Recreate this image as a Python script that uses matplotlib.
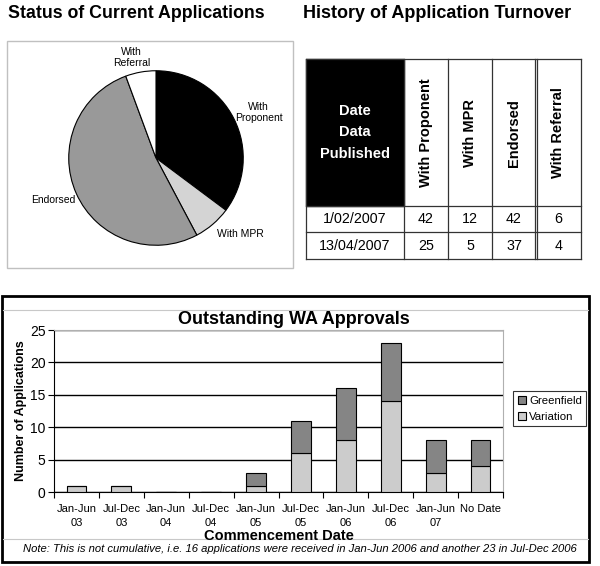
"""Recreate the WA approvals summary sheet: pie, turnover table and stacked bars."""

import matplotlib

matplotlib.use("Agg")
import matplotlib.pyplot as plt
import numpy as np
from matplotlib import font_manager
from matplotlib.patches import Patch, Rectangle

plt.rcParams["font.family"] = ["Liberation Sans", "DejaVu Sans"]

W, H = 600, 566

# --- data -------------------------------------------------------------------
pie_labels = ["With\nProponent", "With MPR", "Endorsed", "With\nReferral"]
pie_values = [25, 5, 37, 4]
pie_colors = ["#000000", "#d4d4d4", "#999999", "#ffffff"]

table_columns = ["With Proponent", "With MPR", "Endorsed", "With Referral"]
table_dates = ["1/02/2007", "13/04/2007"]
table_values = [[42, 12, 42, 6], [25, 5, 37, 4]]

bar_categories = ["Jan-Jun\n03", "Jul-Dec\n03", "Jan-Jun\n04", "Jul-Dec\n04", "Jan-Jun\n05",
                  "Jul-Dec\n05", "Jan-Jun\n06", "Jul-Dec\n06", "Jan-Jun\n07", "No Date"]
variation = [1, 1, 0, 0, 1, 6, 8, 14, 3, 4]
greenfield = [0, 0, 0, 0, 2, 5, 8, 9, 5, 4]
y_ticks = [0, 5, 10, 15, 20, 25]

note = ("Note: This is not cumulative, i.e. 16 applications were received in "
        "Jan-Jun 2006 and another 23 in Jul-Dec 2006")

installed = {f.name for f in font_manager.fontManager.ttflist}
narrow = "Liberation Sans Narrow" if "Liberation Sans Narrow" in installed else "Liberation Sans"


def px_axes(fig, left, top, width, height, **kw):
    """Add an axes placed with pixel coordinates measured from the top left."""
    return fig.add_axes([left / W, 1 - (top + height) / H, width / W, height / H], **kw)


fig = plt.figure(figsize=(W / 100, H / 100), dpi=100)

# canvas for titles, boxes and the table
canvas = px_axes(fig, 0, 0, W, H)
canvas.set_xlim(0, W)
canvas.set_ylim(H, 0)
canvas.axis("off")

# --- pie --------------------------------------------------------------------
canvas.text(8, 13, "Status of Current Applications", fontsize=12.8, fontweight="bold",
            ha="left", va="center")
canvas.add_patch(Rectangle((7, 41), 286, 227, fill=False, edgecolor="#c0c0c0", lw=1))

ax_pie = px_axes(fig, 156 - 89, 158 - 89, 178, 178)
wedges, _ = ax_pie.pie(pie_values, colors=pie_colors, startangle=90, counterclock=False,
                       wedgeprops={"edgecolor": "black", "linewidth": 0.8})
label_dist = [1.29, 1.30, 1.27, 1.19]
label_shift = [-2.6, 7.6, -2.0, 3.6]
for wedge, label, dist, shift in zip(wedges, pie_labels, label_dist, label_shift):
    mid = np.deg2rad((wedge.theta1 + wedge.theta2) / 2 + shift)
    ax_pie.text(dist * np.cos(mid), dist * np.sin(mid), label, fontsize=7.5,
                ha="center", va="center", multialignment="center", linespacing=1.15)
ax_pie.set_xlim(-1.02, 1.02)
ax_pie.set_ylim(-1.02, 1.02)

# --- table ------------------------------------------------------------------
canvas.text(303, 13, "History of Application Turnover", fontsize=13, fontweight="bold",
            ha="left", va="center")
col_edges = [306, 404, 448, 492, 536, 581]
row_edges = [59, 206, 232, 259]
canvas.add_patch(Rectangle((col_edges[0], row_edges[0]), col_edges[1] - col_edges[0],
                           row_edges[1] - row_edges[0], facecolor="black", edgecolor="black"))
for i, word in enumerate(["Date", "Data", "Published"]):
    canvas.text(355, 111 + i * 21.5, word, color="white", fontsize=10.5, fontweight="bold",
                ha="center", va="center")
for x in col_edges:
    if x == 536:
        canvas.plot([x - 1.2, x - 1.2], [row_edges[0], row_edges[-1]], color="#333", lw=0.9)
        canvas.plot([x + 1.2, x + 1.2], [row_edges[0], row_edges[-1]], color="#333", lw=0.9)
    else:
        canvas.plot([x, x], [row_edges[0], row_edges[-1]], color="#333", lw=0.9)
for y in row_edges:
    canvas.plot([col_edges[0], col_edges[-1]], [y, y], color="#333", lw=0.9)

for j, name in enumerate(table_columns):
    cx = (col_edges[j + 1] + col_edges[j + 2]) / 2
    canvas.text(cx, 133, name, rotation=90, fontsize=10.5, fontweight="bold",
                ha="center", va="center")
for i, (date, row) in enumerate(zip(table_dates, table_values)):
    cy = (row_edges[i + 1] + row_edges[i + 2]) / 2
    canvas.text((col_edges[0] + col_edges[1]) / 2, cy, date, fontsize=10.3,
                ha="center", va="center")
    for j, val in enumerate(row):
        cx = (col_edges[j + 1] + col_edges[j + 2]) / 2
        canvas.text(cx, cy, str(val), fontsize=10.3, ha="center", va="center")

# --- stacked bars -----------------------------------------------------------
canvas.add_patch(Rectangle((2, 296), 587, 266, fill=False, edgecolor="black", lw=2))
canvas.plot([3, 588], [310, 310], color="#c8c8c8", lw=0.8)
canvas.plot([3, 588], [539, 539], color="#c8c8c8", lw=0.8)
canvas.text(294, 319, "Outstanding WA Approvals", fontsize=13, fontweight="bold",
            ha="center", va="center")
canvas.text(300, 549, note, fontsize=8.1, fontstyle="italic", ha="center", va="center")

ax = px_axes(fig, 54, 330, 449, 162)
x = np.arange(len(bar_categories))
bar_w = 0.44
ax.bar(x, variation, bar_w, color="#cccccc", edgecolor="black", linewidth=0.8, zorder=3)
ax.bar(x, greenfield, bar_w, bottom=variation, color="#858585", edgecolor="black",
       linewidth=0.8, zorder=3)
ax.set_xlim(-0.5, len(bar_categories) - 0.5)
ax.set_ylim(0, 25)
ax.set_yticks(y_ticks)
ax.tick_params(axis="y", labelsize=10, length=4, width=0.8, pad=2)
ax.set_xticks(x)
ax.set_xticklabels(bar_categories, fontsize=8, linespacing=1.45, family=[narrow, "DejaVu Sans"])
ax.tick_params(axis="x", length=0, pad=9)
ax.set_xticks(np.arange(len(bar_categories) + 1) - 0.5, minor=True)
ax.tick_params(axis="x", which="minor", length=4, width=0.8)
ax.grid(axis="y", color="black", lw=1, zorder=0)
ax.spines["top"].set_color("#b0b0b0")
ax.spines["right"].set_color("#b0b0b0")
ax.set_xlabel("Commencement Date", fontsize=10.5, fontweight="bold", labelpad=1)
ax.set_ylabel("Number of Applications", fontsize=9, fontweight="bold", labelpad=2)

handles = [Patch(facecolor="#858585", edgecolor="black", lw=0.8, label="Greenfield"),
           Patch(facecolor="#cccccc", edgecolor="black", lw=0.8, label="Variation")]
leg = fig.legend(handles=handles, loc="upper left", bbox_to_anchor=(513 / W, 1 - 391 / H),
                 fontsize=8.2, frameon=True, fancybox=False, edgecolor="black",
                 handlelength=0.7, handleheight=0.7, handletextpad=0.3,
                 borderpad=0.4, labelspacing=0.55, borderaxespad=0)
leg.get_frame().set_linewidth(0.8)

fig.savefig("out.png", dpi=100)
